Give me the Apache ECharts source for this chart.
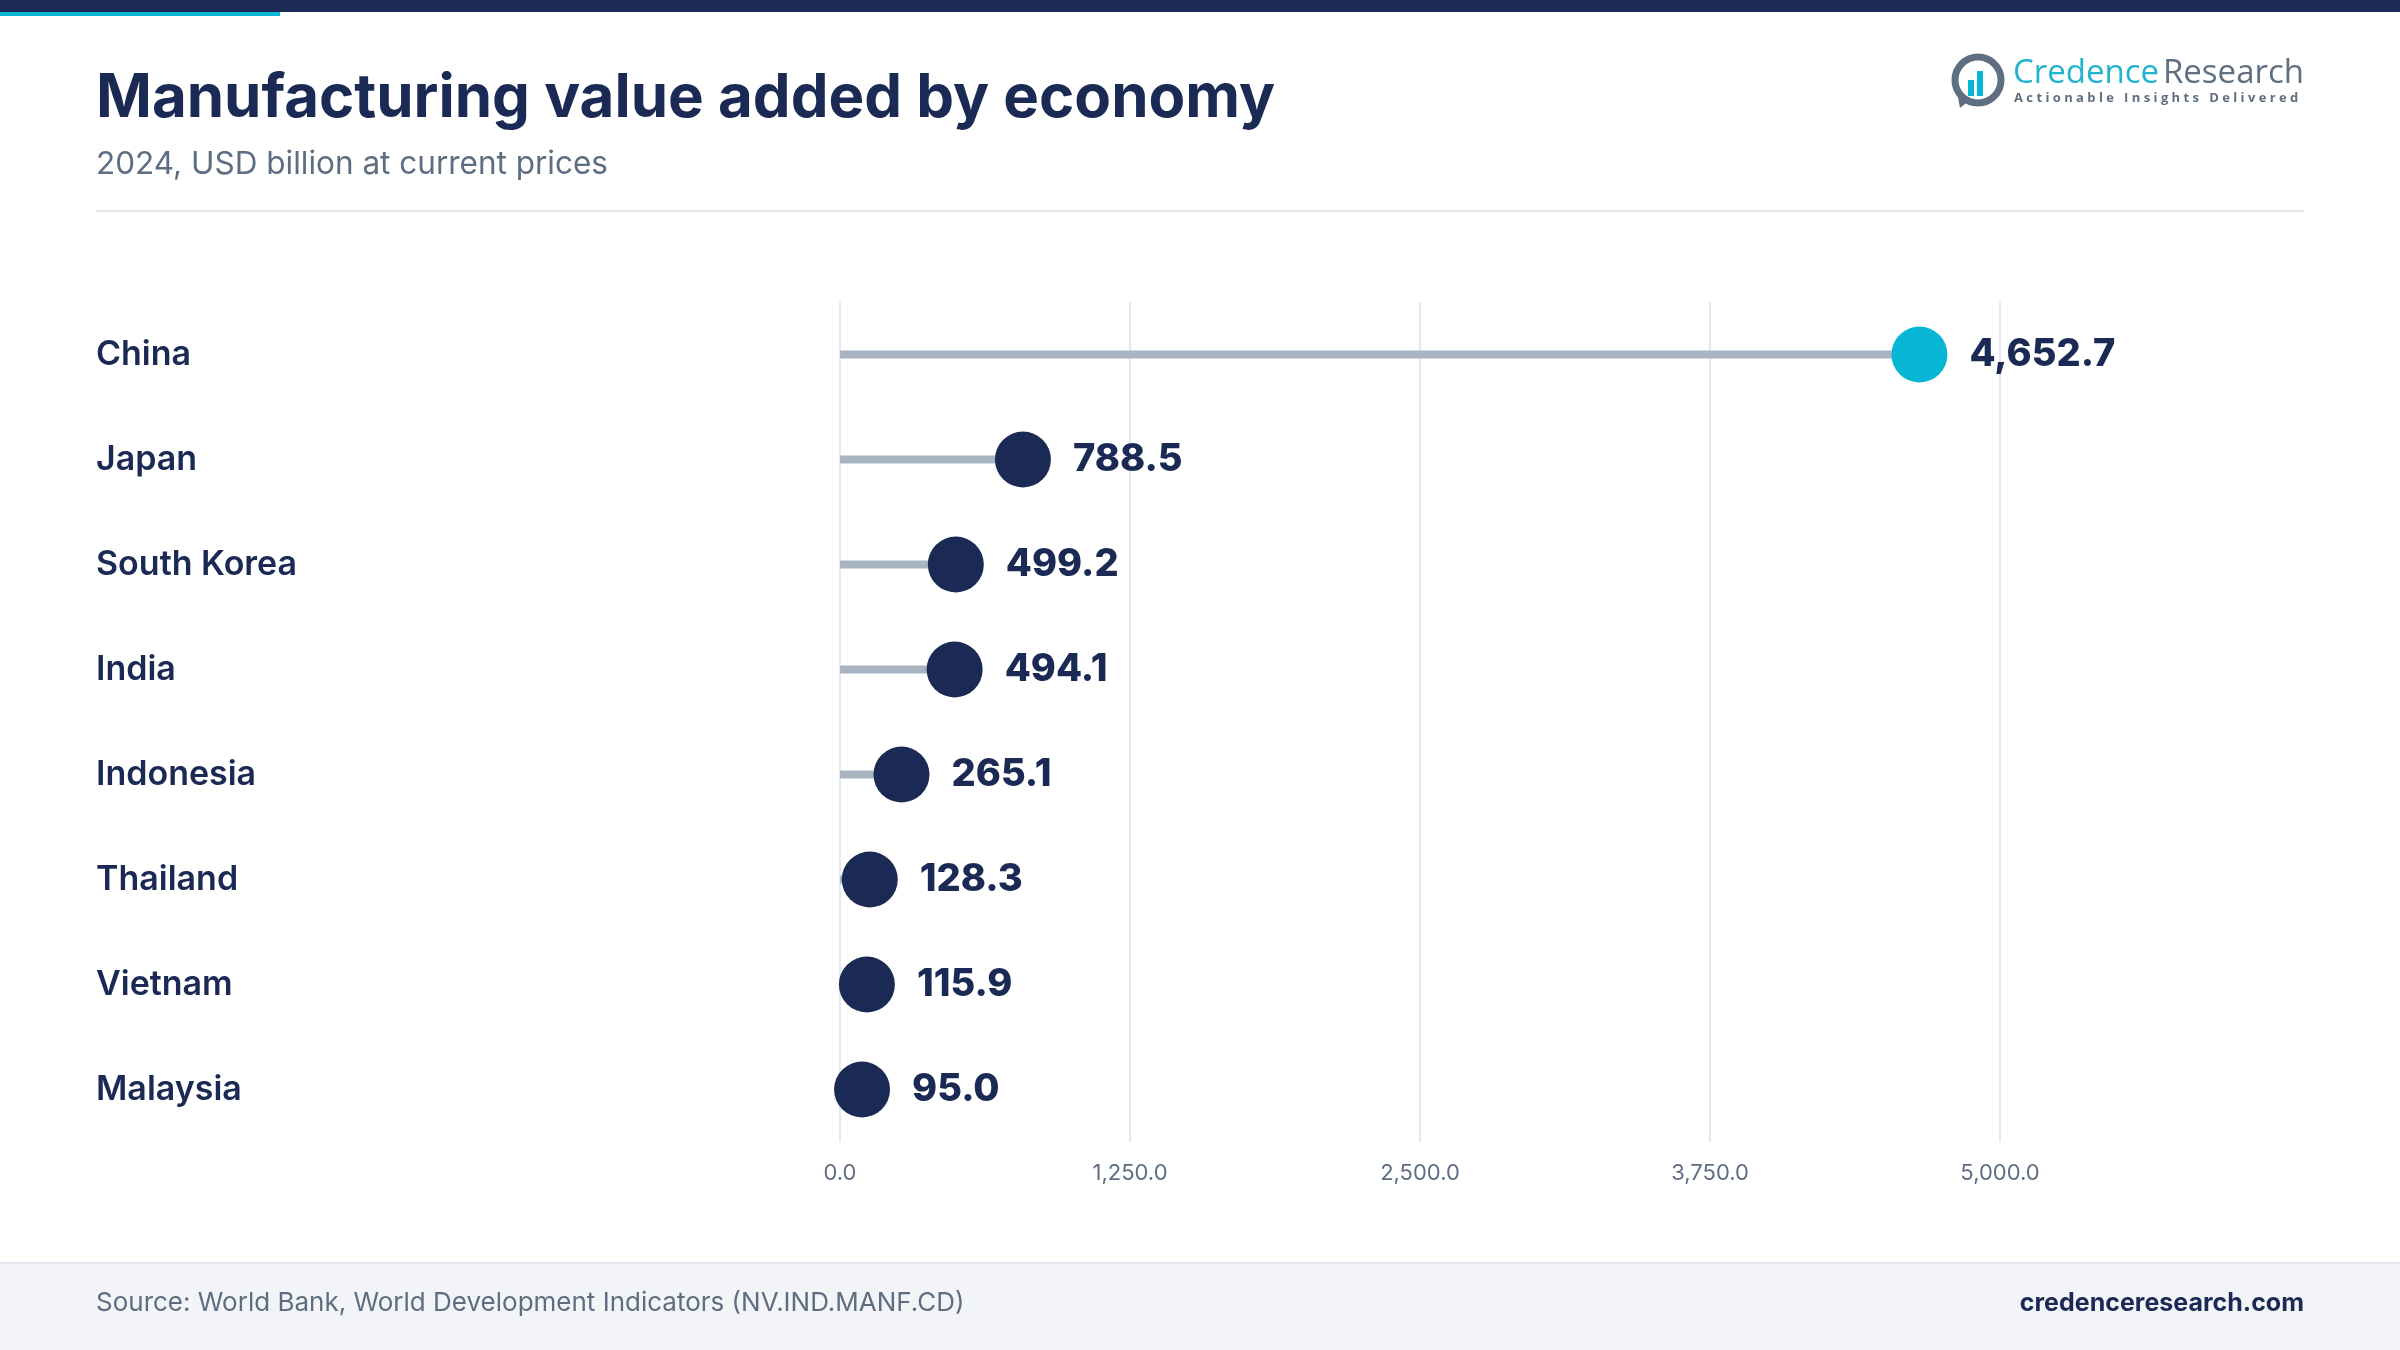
<!DOCTYPE html>
<html>
<head>
<meta charset="utf-8">
<script src="https://cdn.jsdelivr.net/npm/echarts@6/dist/echarts.min.js"></script>
<style>
  html, body { margin: 0; padding: 0; background: #ffffff; }
  #main { width: 2400px; height: 1350px; }
</style>
</head>
<body>
<div id="main"></div>
<script>
(function() {

    // data
    var economies = ['China', 'Japan', 'South Korea', 'India', 'Indonesia', 'Thailand', 'Vietnam', 'Malaysia'];
    var values = [4652.7, 788.5, 499.2, 494.1, 265.1, 128.3, 115.9, 95.0];
    var highlight = 'China';

    var navy = '#1b2a55';
    var cyan = '#06b6d4';
    var grey = '#5e6e82';
    var font = 'Inter';

    function fmt(v, d) {
        return Number(v).toLocaleString('en-US', { minimumFractionDigits: d, maximumFractionDigits: d });
    }

    var dots = [];
    for (var i = 0; i < values.length; i++) {
        dots.push({
            value: values[i],
            itemStyle: { color: economies[i] === highlight ? cyan : navy }
        });
    }

    var myChart = echarts.init(document.getElementById('main'));

    var option = {
        backgroundColor: '#ffffff',
        animation: false,
        grid: { left: 840, right: 400, top: 302, bottom: 208 },
        xAxis: {
            type: 'value',
            min: 0,
            max: 5000,
            interval: 1250,
            axisLine: { show: false },
            axisTick: { show: false },
            splitLine: { lineStyle: { color: '#e5e8ee', width: 2 } },
            axisLabel: {
                margin: 20,
                fontFamily: font,
                fontSize: 22,
                color: grey,
                formatter: function(v) { return fmt(v, 1); }
            }
        },
        yAxis: {
            type: 'category',
            inverse: true,
            data: economies,
            axisLine: { show: false },
            axisTick: { show: false },
            axisLabel: {
                align: 'left',
                margin: 744,
                fontFamily: font,
                fontSize: 34,
                fontWeight: 600,
                color: navy
            }
        },
        series: [
            {
                // stems
                type: 'bar',
                data: values,
                barWidth: 8,
                itemStyle: { color: '#a8b4c2' },
                silent: true,
                z: 1
            },
            {
                type: 'scatter',
                data: dots,
                symbolSize: 56,
                itemStyle: { opacity: 1 },
                z: 3,
                label: {
                    show: true,
                    position: 'right',
                    distance: 22,
                    fontFamily: font,
                    fontSize: 38,
                    fontWeight: 800,
                    color: navy,
                    formatter: function(p) { return fmt(p.value, 1); }
                }
            }
        ],
        graphic: [
            // top band
            { type: 'rect', shape: { x: 0, y: 0, width: 2400, height: 12 }, style: { fill: navy } },
            { type: 'rect', shape: { x: 0, y: 12, width: 280, height: 4 }, style: { fill: cyan } },
            // title block
            {
                type: 'text', x: 96, y: 99,
                style: { text: 'Manufacturing value added by economy', fill: navy, font: '700 60px Inter', verticalAlign: 'middle' }
            },
            {
                type: 'text', x: 96, y: 165,
                style: { text: '2024, USD billion at current prices', fill: grey, font: '400 31.5px Inter', verticalAlign: 'middle' }
            },
            { type: 'rect', shape: { x: 96, y: 210, width: 2208, height: 2 }, style: { fill: '#e3e6ee' } },
            // logo
            {
                type: 'circle', shape: { cx: 1978, cy: 80, r: 23 },
                style: { fill: 'none', stroke: '#5f6f82', lineWidth: 7 }
            },
            { type: 'polygon', shape: { points: [[1957, 92], [1960, 108], [1970, 100]] }, style: { fill: '#5f6f82' } },
            { type: 'rect', shape: { x: 1968, y: 80, width: 6, height: 16 }, style: { fill: cyan } },
            { type: 'rect', shape: { x: 1977, y: 71, width: 6, height: 25 }, style: { fill: cyan } },
            {
                type: 'text', x: 2013, y: 74,
                style: { text: 'Credence', fill: '#22b3d0', font: '400 33px "Open Sans"', verticalAlign: 'middle' }
            },
            {
                type: 'text', x: 2304, y: 74,
                style: { text: 'Research', fill: '#5f6f82', font: '400 33px "Open Sans"', align: 'right', verticalAlign: 'middle' }
            },
            {
                type: 'text', x: 2014, y: 98,
                style: {
                    text: 'A c t i o n a b l e   I n s i g h t s   D e l i v e r e d',
                    fill: '#5f6f82', font: '700 13px "Open Sans"', verticalAlign: 'middle'
                }
            },
            // footer
            { type: 'rect', shape: { x: 0, y: 1263, width: 2400, height: 87 }, style: { fill: '#f3f4f8' } },
            { type: 'rect', shape: { x: 0, y: 1262, width: 2400, height: 2 }, style: { fill: '#e2e5ed' } },
            {
                type: 'text', x: 96, y: 1303,
                style: { text: 'Source: World Bank, World Development Indicators (NV.IND.MANF.CD)', fill: grey, font: '400 26px Inter', verticalAlign: 'middle' }
            },
            {
                type: 'text', x: 2304, y: 1303,
                style: { text: 'credenceresearch.com', fill: navy, font: '700 25px Inter', align: 'right', verticalAlign: 'middle' }
            }
        ]
    };

    myChart.setOption(option);

})();
</script>
</body>
</html>
